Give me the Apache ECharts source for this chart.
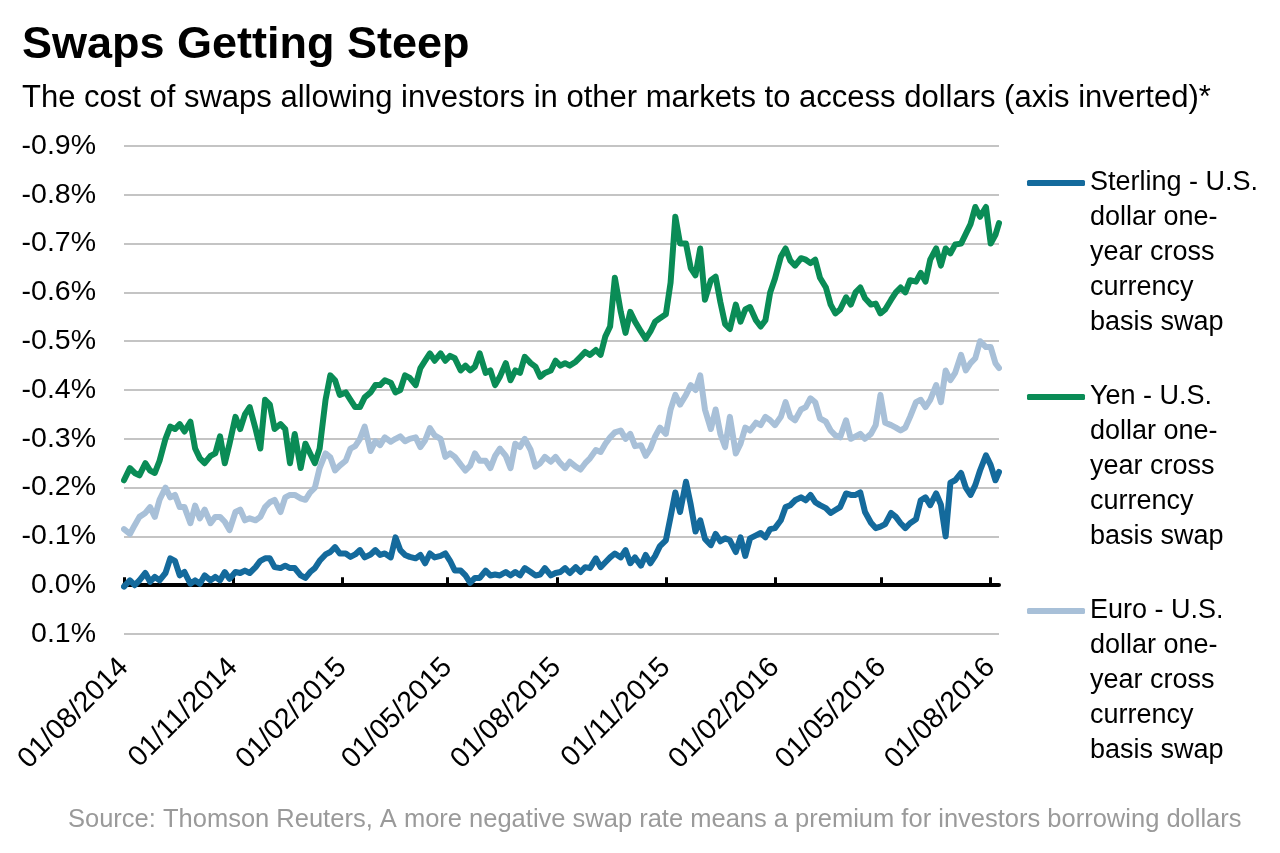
<!DOCTYPE html>
<html><head><meta charset="utf-8">
<script src="https://cdn.jsdelivr.net/npm/echarts@6/dist/echarts.min.js"></script>
<style>html,body{margin:0;padding:0;background:#fff}#chart{width:1280px;height:853px}</style>
</head><body><div id="chart"></div>
<script>
const titleText = 'Swaps Getting Steep';
const subtitleText = 'The cost of swaps allowing investors in other markets to access dollars (axis inverted)*';
const sourceText = 'Source: Thomson Reuters, A more negative swap rate means a premium for investors borrowing dollars';
const seriesNames = [
  'Sterling - U.S.\ndollar one-\nyear cross\ncurrency\nbasis swap',
  'Yen - U.S.\ndollar one-\nyear cross\ncurrency\nbasis swap',
  'Euro - U.S.\ndollar one-\nyear cross\ncurrency\nbasis swap'
];
const seriesColors = ['#146a9c', '#0a8c56', '#a8c0d8'];
const tickDates = ['2014-08-01','2014-11-01','2015-02-01','2015-05-01','2015-08-01','2015-11-01','2016-02-01','2016-05-01','2016-08-01'];
const axisStart = '2014-08-01';
const axisEnd = '2016-08-08';

const dates = [
'2014-08-01','2014-08-06','2014-08-10','2014-08-14','2014-08-19','2014-08-23','2014-08-27','2014-08-31','2014-09-05','2014-09-09',
'2014-09-13','2014-09-17','2014-09-21','2014-09-26','2014-09-30','2014-10-04','2014-10-08','2014-10-13','2014-10-17','2014-10-21',
'2014-10-25','2014-10-29','2014-11-03','2014-11-07','2014-11-11','2014-11-15','2014-11-20','2014-11-24','2014-11-28','2014-12-02',
'2014-12-06','2014-12-11','2014-12-15','2014-12-19','2014-12-23','2014-12-28','2015-01-01','2015-01-05','2015-01-09','2015-01-13',
'2015-01-18','2015-01-22','2015-01-26','2015-01-30','2015-02-04','2015-02-08','2015-02-12','2015-02-16','2015-02-20','2015-02-25',
'2015-03-01','2015-03-05','2015-03-09','2015-03-14','2015-03-18','2015-03-22','2015-03-26','2015-03-30','2015-04-04','2015-04-08',
'2015-04-12','2015-04-16','2015-04-20','2015-04-25','2015-04-29','2015-05-03','2015-05-07','2015-05-12','2015-05-16','2015-05-20',
'2015-05-24','2015-05-28','2015-06-02','2015-06-06','2015-06-10','2015-06-14','2015-06-19','2015-06-23','2015-06-27','2015-07-01',
'2015-07-05','2015-07-10','2015-07-14','2015-07-18','2015-07-22','2015-07-27','2015-07-31','2015-08-04','2015-08-08','2015-08-12',
'2015-08-17','2015-08-21','2015-08-25','2015-08-29','2015-09-03','2015-09-07','2015-09-11','2015-09-15','2015-09-19','2015-09-24',
'2015-09-28','2015-10-02','2015-10-06','2015-10-11','2015-10-15','2015-10-19','2015-10-23','2015-10-27','2015-11-01','2015-11-05',
'2015-11-09','2015-11-13','2015-11-18','2015-11-22','2015-11-26','2015-11-30','2015-12-04','2015-12-09','2015-12-13','2015-12-17',
'2015-12-21','2015-12-25','2015-12-30','2016-01-03','2016-01-07','2016-01-11','2016-01-16','2016-01-20','2016-01-24','2016-01-28',
'2016-02-01','2016-02-06','2016-02-10','2016-02-14','2016-02-18','2016-02-23','2016-02-27','2016-03-02','2016-03-06','2016-03-10',
'2016-03-15','2016-03-19','2016-03-23','2016-03-27','2016-04-01','2016-04-05','2016-04-09','2016-04-13','2016-04-17','2016-04-22',
'2016-04-26','2016-04-30','2016-05-04','2016-05-09','2016-05-13','2016-05-17','2016-05-21','2016-05-25','2016-05-30','2016-06-03',
'2016-06-07','2016-06-11','2016-06-16','2016-06-20','2016-06-24','2016-06-28','2016-07-02','2016-07-07','2016-07-11','2016-07-15',
'2016-07-19','2016-07-23','2016-07-28','2016-08-01','2016-08-05','2016-08-08'
];

const sterling = [
0.003,-0.01,0.0,-0.01,-0.025,-0.007,-0.017,-0.01,-0.025,-0.055,
-0.05,-0.02,-0.027,-0.003,-0.01,-0.003,-0.02,-0.01,-0.017,-0.01,
-0.027,-0.013,-0.027,-0.025,-0.03,-0.025,-0.037,-0.05,-0.055,-0.055,
-0.037,-0.035,-0.04,-0.035,-0.035,-0.02,-0.015,-0.027,-0.035,-0.05,
-0.063,-0.068,-0.078,-0.065,-0.065,-0.058,-0.063,-0.072,-0.057,-0.063,
-0.072,-0.062,-0.065,-0.057,-0.098,-0.072,-0.062,-0.058,-0.055,-0.062,
-0.045,-0.065,-0.057,-0.06,-0.065,-0.05,-0.03,-0.03,-0.02,-0.005,
-0.015,-0.015,-0.03,-0.02,-0.022,-0.02,-0.027,-0.02,-0.027,-0.02,
-0.035,-0.027,-0.02,-0.022,-0.035,-0.02,-0.025,-0.027,-0.035,-0.025,
-0.037,-0.027,-0.037,-0.035,-0.055,-0.037,-0.047,-0.057,-0.065,-0.057,
-0.072,-0.045,-0.057,-0.04,-0.062,-0.045,-0.06,-0.08,-0.092,-0.14,
-0.19,-0.15,-0.212,-0.165,-0.11,-0.133,-0.095,-0.082,-0.105,-0.09,
-0.096,-0.092,-0.068,-0.098,-0.06,-0.096,-0.102,-0.107,-0.098,-0.115,
-0.117,-0.133,-0.16,-0.164,-0.174,-0.18,-0.174,-0.185,-0.17,-0.164,
-0.158,-0.148,-0.154,-0.16,-0.188,-0.185,-0.185,-0.19,-0.15,-0.128,
-0.117,-0.12,-0.125,-0.148,-0.14,-0.127,-0.117,-0.127,-0.135,-0.174,
-0.18,-0.164,-0.188,-0.165,-0.10,-0.21,-0.215,-0.23,-0.2,-0.185,
-0.205,-0.235,-0.266,-0.246,-0.215,-0.232
];

const yen = [
-0.215,-0.24,-0.23,-0.225,-0.25,-0.235,-0.23,-0.255,-0.30,-0.325,
-0.32,-0.33,-0.315,-0.335,-0.28,-0.26,-0.25,-0.265,-0.27,-0.305,
-0.25,-0.29,-0.345,-0.32,-0.35,-0.365,-0.32,-0.28,-0.38,-0.37,
-0.32,-0.33,-0.32,-0.25,-0.31,-0.24,-0.29,-0.27,-0.25,-0.28,
-0.38,-0.43,-0.42,-0.39,-0.395,-0.38,-0.365,-0.365,-0.385,-0.395,
-0.41,-0.41,-0.42,-0.415,-0.395,-0.40,-0.43,-0.425,-0.41,-0.445,
-0.46,-0.475,-0.46,-0.475,-0.46,-0.47,-0.465,-0.44,-0.45,-0.44,
-0.448,-0.475,-0.435,-0.44,-0.41,-0.427,-0.455,-0.42,-0.44,-0.435,
-0.468,-0.455,-0.448,-0.427,-0.435,-0.44,-0.46,-0.45,-0.455,-0.45,
-0.458,-0.468,-0.478,-0.472,-0.482,-0.472,-0.51,-0.53,-0.63,-0.56,
-0.517,-0.56,-0.54,-0.52,-0.505,-0.52,-0.54,-0.547,-0.555,-0.62,
-0.755,-0.70,-0.70,-0.65,-0.635,-0.69,-0.585,-0.625,-0.632,-0.58,
-0.535,-0.525,-0.575,-0.54,-0.565,-0.57,-0.543,-0.53,-0.543,-0.60,
-0.628,-0.673,-0.69,-0.665,-0.655,-0.67,-0.667,-0.66,-0.667,-0.63,
-0.61,-0.575,-0.557,-0.565,-0.59,-0.575,-0.60,-0.61,-0.588,-0.575,
-0.577,-0.557,-0.565,-0.585,-0.60,-0.61,-0.60,-0.625,-0.622,-0.64,
-0.622,-0.667,-0.69,-0.655,-0.69,-0.68,-0.698,-0.70,-0.72,-0.74,
-0.775,-0.755,-0.775,-0.70,-0.718,-0.742
];

const euro = [
-0.115,-0.105,-0.123,-0.14,-0.148,-0.16,-0.14,-0.175,-0.20,-0.18,
-0.185,-0.16,-0.16,-0.127,-0.163,-0.137,-0.155,-0.127,-0.14,-0.14,
-0.13,-0.113,-0.15,-0.155,-0.133,-0.137,-0.133,-0.14,-0.16,-0.17,
-0.175,-0.15,-0.18,-0.185,-0.185,-0.178,-0.175,-0.19,-0.20,-0.24,
-0.27,-0.262,-0.235,-0.245,-0.255,-0.28,-0.285,-0.30,-0.325,-0.275,
-0.295,-0.287,-0.303,-0.294,-0.30,-0.305,-0.295,-0.30,-0.303,-0.283,
-0.297,-0.322,-0.307,-0.30,-0.263,-0.27,-0.263,-0.247,-0.235,-0.245,
-0.27,-0.255,-0.255,-0.24,-0.265,-0.28,-0.265,-0.24,-0.29,-0.283,
-0.30,-0.277,-0.243,-0.25,-0.263,-0.253,-0.263,-0.25,-0.24,-0.253,
-0.243,-0.237,-0.25,-0.26,-0.277,-0.273,-0.29,-0.303,-0.313,-0.317,
-0.30,-0.31,-0.285,-0.287,-0.265,-0.28,-0.305,-0.323,-0.31,-0.36,
-0.39,-0.37,-0.39,-0.41,-0.40,-0.43,-0.36,-0.32,-0.36,-0.31,
-0.283,-0.345,-0.27,-0.29,-0.323,-0.317,-0.333,-0.328,-0.345,-0.338,
-0.328,-0.345,-0.375,-0.345,-0.338,-0.36,-0.365,-0.383,-0.375,-0.342,
-0.335,-0.317,-0.307,-0.303,-0.338,-0.30,-0.305,-0.31,-0.30,-0.31,
-0.328,-0.39,-0.333,-0.328,-0.323,-0.317,-0.323,-0.345,-0.375,-0.38,
-0.365,-0.38,-0.41,-0.375,-0.44,-0.42,-0.435,-0.472,-0.44,-0.455,
-0.465,-0.50,-0.488,-0.488,-0.455,-0.445
];

function ts(s) { const p = s.split('-').map(Number); return new Date(p[0], p[1] - 1, p[2]).getTime(); }
function pad(n) { return (n < 10 ? '0' : '') + n; }
function fmtDate(v) { const d = new Date(v); return pad(d.getDate()) + '/' + pad(d.getMonth() + 1) + '/' + d.getFullYear(); }
function fmtPct(v) { const r = Math.round(v * 10) / 10; return (r === 0 ? '0.0' : r.toFixed(1)) + '%'; }

const seriesValues = [sterling, yen, euro];
const tickTs = tickDates.map(ts);
const chart = echarts.init(document.getElementById('chart'), null, {renderer: 'canvas'});
const FONT = "'Liberation Sans', Arial, Helvetica, sans-serif";

chart.setOption({
  animation: false,
  backgroundColor: '#ffffff',
  textStyle: {fontFamily: FONT},
  title: [
    {text: titleText, left: 22, top: 23, padding: 0, textStyle: {fontFamily: FONT, fontSize: 45, fontWeight: 'bold', color: '#000'}},
    {text: subtitleText, left: 22, top: 83, padding: 0, textStyle: {fontFamily: FONT, fontSize: 31, fontWeight: 'normal', color: '#000'}},
    {text: sourceText, left: 68, top: 807, padding: 0, textStyle: {fontFamily: FONT, fontSize: 25.5, fontWeight: 'normal', color: '#9a9a9a'}}
  ],
  legend: {
    orient: 'vertical', left: 1022, top: 20.5, icon: 'roundRect', itemWidth: 58, itemHeight: 6, itemGap: -101,
    selectedMode: false,
    data: seriesNames,
    formatter: name => '\n\n\n\n' + name,
    textStyle: {fontFamily: FONT, fontSize: 27, lineHeight: 35, color: '#000'}
  },
  grid: {left: 124, top: 146, width: 875, height: 488, containLabel: false},
  xAxis: [
    {
      type: 'value', min: ts(axisStart), max: ts(axisEnd), position: 'bottom',
      axisLine: {show: false, onZero: false}, axisTick: {show: false}, splitLine: {show: false},
      axisLabel: {customValues: tickTs, formatter: fmtDate, rotate: 45, fontSize: 28.5, color: '#000', margin: 29, fontFamily: FONT, showMinLabel: true, showMaxLabel: true}
    },
    {
      type: 'value', min: ts(axisStart), max: ts(axisEnd), position: 'bottom',
      axisLine: {show: true, onZero: true, lineStyle: {color: '#000', width: 4}},
      axisTick: {show: true, inside: true, length: 8, lineStyle: {color: '#000', width: 3}, customValues: tickTs},
      axisLabel: {show: false}, splitLine: {show: false}
    }
  ],
  yAxis: {
    type: 'value', inverse: true, min: -0.9, max: 0.1, interval: 0.1,
    axisLine: {show: false}, axisTick: {show: false},
    splitLine: {show: true, lineStyle: {color: '#c4c4c4', width: 2}},
    axisLabel: {formatter: fmtPct, fontSize: 28.5, color: '#000', margin: 28, fontFamily: FONT}
  },
  series: seriesNames.map((name, k) => ({
    name: name, type: 'line', xAxisIndex: 0, yAxisIndex: 0,
    showSymbol: false, symbol: 'none', color: seriesColors[k],
    lineStyle: {width: 6, color: seriesColors[k], join: 'round', cap: 'round'},
    data: dates.map((d, i) => [ts(d), seriesValues[k][i]]),
    z: 3 - k
  }))
});
</script></body></html>
